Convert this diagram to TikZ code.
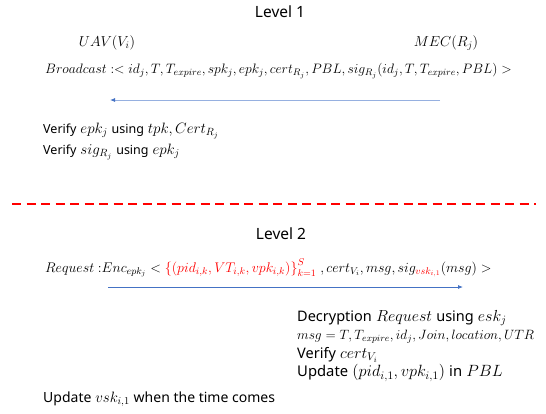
\RequirePackage{fix-cm}
\documentclass[tikz,border=0pt]{standalone}
\usepackage{fontspec}
\setmainfont{Noto Sans}
\usetikzlibrary{arrows.meta}
\definecolor{arrowblue}{RGB}{68,114,196}
\definecolor{lightblue}{RGB}{150,176,224}
\definecolor{dashred}{RGB}{255,0,0}
\newcommand{\tsm}[1]{{\fontsize{12.5}{14}\selectfont #1}}
\newcommand{\tbt}[1]{{\fontsize{14}{16}\selectfont #1}}
\newcommand{\tbg}[1]{{\fontsize{14.5}{16}\selectfont #1}}
\newcommand{\tbu}[1]{{\fontsize{14.8}{17}\selectfont #1}}
\tikzset{
  lvl/.style={inner sep=0pt, font=\fontsize{15.5}{17}\selectfont},
  head/.style={inner sep=0pt, font=\fontsize{14.4}{16}\selectfont},
  msgtxt/.style={inner sep=0pt, font=\fontsize{13.65}{15}\selectfont},
  vline/.style={inner sep=0pt, font=\fontsize{15}{17}\selectfont},
  big/.style={inner sep=0pt, font=\fontsize{16}{18}\selectfont},
  flow/.style={line width=0.8pt, -{Latex[length=5pt,width=4pt]}},
}
\begin{document}
\begin{tikzpicture}[x=1pt,y=-1pt]
\useasboundingbox (0,0) rectangle (546,413);
\node[lvl] (lv1) at (280,12) {Level 1};
\node[head] (uav) at (107,43) {$UAV(V_i)$};
\node[head] (mec) at (446,43) {$MEC(R_j)$};
\node[msgtxt, anchor=west] (bc) at (45,71) {$Broadcast: < id_j, T, T_{expire}, spk_j, epk_j, cert_{R_j}, PBL, sig_{R_j}(id_j, T, T_{expire}, PBL) >$};
\coordinate (a1s) at (440,100);
\coordinate (a1e) at (110,100);
\draw[flow, draw=lightblue, -{Latex[length=5pt,width=4pt,color=arrowblue]}] (a1s) -- (a1e);
\node[vline, anchor=west] (v1) at (43,131) {\tsm{Verify} $epk_j$ \tsm{using} $tpk, Cert_{R_j}$};
\node[vline, anchor=west] (v2) at (43,152) {\tsm{Verify} $sig_{R_j}$ \tsm{using} $epk_j$};
\coordinate (d1) at (12,204);
\coordinate (d2) at (536,204);
\draw[dashred, line width=1.8pt, dash pattern=on 9pt off 5.5pt] (d1) -- (d2);
\node[lvl] (lv2) at (281,234) {Level 2};
\node[msgtxt, anchor=west, font=\fontsize{14}{16}\selectfont] (rq) at (45,268) {$Request\ {:}Enc_{epk_j} < \color{dashred}\bigl\{\bigl(pid_{i,k}, VT_{i,k}, vpk_{i,k}\bigr)\bigr\}_{k=1}^{S}\color{black}\;, cert_{V_i}, msg, sig_{\color{dashred}vsk_{i,1}}(msg) >$};
\coordinate (a2s) at (108,287);
\coordinate (a2e) at (463,287);
\draw[flow, draw=arrowblue] (a2s) -- (a2e);
\node[big, anchor=west] (r1) at (297,318) {\tbg{Decryption} $Request$ \tbg{using} $esk_j$};
\node[msgtxt, anchor=west, font=\fontsize{13.5}{16}\selectfont] (r2) at (297,337) {$msg = T, T_{expire}, id_j, Join, location, UTR$};
\node[big, anchor=west] (r3) at (297,355) {\tbg{Verify} $cert_{V_i}$};
\node[big, anchor=west, font=\fontsize{16.3}{18}\selectfont] (r4) at (297,373) {\tbu{Update} $\bigl(pid_{i,1}, vpk_{i,1}\bigr)$ \tbu{in} $PBL$};
\node[vline, anchor=west] (u) at (43,399) {\tbt{Update} $vsk_{i,1}$ \tbt{when the time comes}};
\end{tikzpicture}
\end{document}
